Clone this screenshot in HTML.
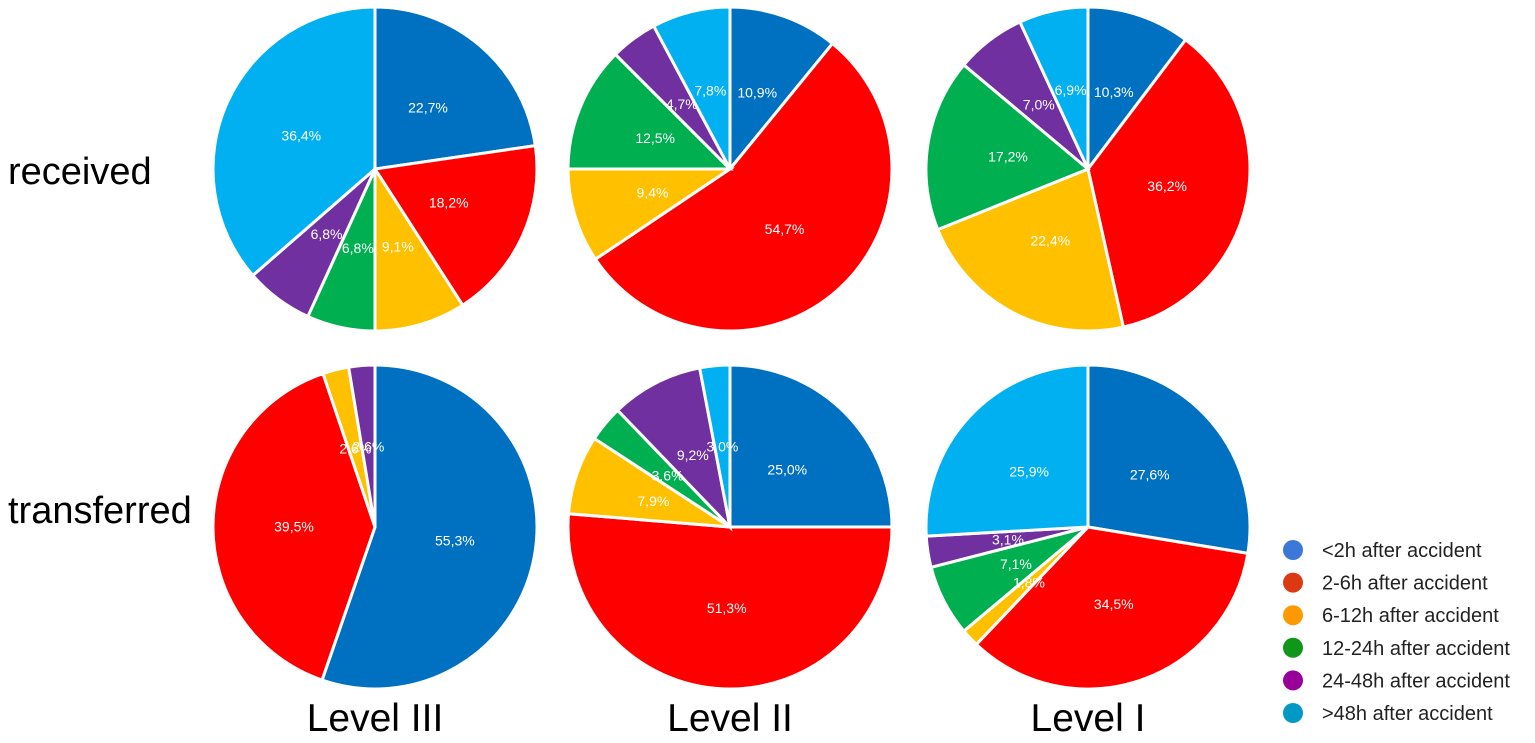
<!DOCTYPE html>
<html><head><meta charset="utf-8"><style>
body{margin:0;background:#fff;width:1535px;height:738px;overflow:hidden;font-family:"Liberation Sans",sans-serif}
</style></head><body>
<svg width="1535" height="738">
<text x="8" y="184" font-size="38" fill="#000">received</text>
<text x="8" y="523" font-size="38" fill="#000">transferred</text>
<text x="375" y="731" font-size="39" text-anchor="middle">Level III</text>
<text x="730" y="731" font-size="39" text-anchor="middle">Level II</text>
<text x="1088" y="731" font-size="39" text-anchor="middle">Level I</text>
<g id="pies"></g>
<g id="legend"></g>
</svg>
<script>
const categories=["<2h after accident","2-6h after accident","6-12h after accident","12-24h after accident","24-48h after accident",">48h after accident"];
const sliceColors=["#0070c0","#ff0000","#ffc000","#00b050","#7030a0","#00b0f0"];
const legendColors=["#3c78d8","#dc3912","#ff9900","#109618","#990099","#0099c6"];
const recvIII=[22.7,18.2,9.1,6.8,6.8,36.4];
const recvII=[10.9,54.7,9.4,12.5,4.7,7.8];
const recvI=[10.3,36.2,22.4,17.2,7.0,6.9];
const transIII=[55.3,39.5,2.6,0,2.6,0];
const transII=[25.0,51.3,7.9,3.6,9.2,3.0];
const transI=[27.6,34.5,1.8,7.1,3.1,25.9];
const NS="http://www.w3.org/2000/svg";
const pies=[
 {d:recvIII,cx:375,cy:169,name:"pie-received-level-iii"},
 {d:recvII,cx:730,cy:169,name:"pie-received-level-ii"},
 {d:recvI,cx:1088,cy:169,name:"pie-received-level-i"},
 {d:transIII,cx:375,cy:527,name:"pie-transferred-level-iii"},
 {d:transII,cx:730,cy:527,name:"pie-transferred-level-ii"},
 {d:transI,cx:1088,cy:527,name:"pie-transferred-level-i"}];
const R=162;
const gp=document.getElementById('pies');
function pt(cx,cy,r,a){return [cx+r*Math.sin(a),cy-r*Math.cos(a)];}
pies.forEach(p=>{
 const g=document.createElementNS(NS,'g');
 
 
 gp.appendChild(g);
 const tot=p.d.reduce((a,b)=>a+b,0);
 let a0=0;
 const labels=[];
 p.d.forEach((v,i)=>{
  const a1=a0+v/tot*2*Math.PI;
  if(v>0){
   const s=pt(p.cx,p.cy,R,a0),e=pt(p.cx,p.cy,R,a1);
   const path=document.createElementNS(NS,'path');
   path.setAttribute('d',`M${p.cx},${p.cy}L${s[0]},${s[1]}A${R},${R} 0 ${a1-a0>Math.PI?1:0} 1 ${e[0]},${e[1]}Z`);
   path.setAttribute('fill',sliceColors[i]);
   path.setAttribute('stroke','#fff');
   path.setAttribute('stroke-width','3');
   
   
   g.appendChild(path);
   const m=pt(p.cx,p.cy,R*0.5,(a0+a1)/2);
   labels.push([m,v]);
  }
  a0=a1;
 });
 labels.forEach(([m,v])=>{
  const t=document.createElementNS(NS,'text');
  t.setAttribute('x',m[0]);t.setAttribute('y',m[1]+5);
  t.setAttribute('text-anchor','middle');t.setAttribute('font-size','14');t.setAttribute('fill','#fff');
  
  
  t.textContent=v.toFixed(1).replace('.',',')+'%';
  g.appendChild(t);
 });
});
const gl=document.getElementById('legend');
categories.forEach((c,i)=>{
 const y=550+i*32.6;
 const ci=document.createElementNS(NS,'circle');
 ci.setAttribute('cx',1293);ci.setAttribute('cy',y);ci.setAttribute('r',10);ci.setAttribute('fill',legendColors[i]);
 
 
 gl.appendChild(ci);
 const t=document.createElementNS(NS,'text');
 t.setAttribute('x',1322);t.setAttribute('y',y+7);t.setAttribute('font-size','20');t.setAttribute('fill','#222');
 
 
 t.textContent=c;
 gl.appendChild(t);
});
</script>
</body></html>
